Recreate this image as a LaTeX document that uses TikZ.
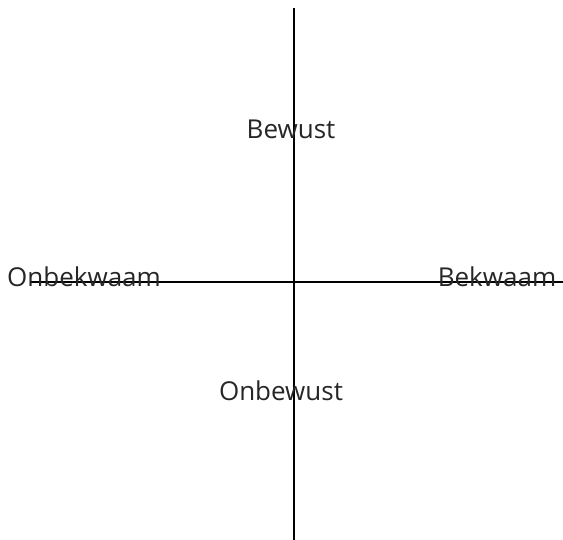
\documentclass[tikz,border=0pt]{standalone}
\usepackage{fontspec}
\setmainfont{Open Sans}
\begin{document}
\begin{tikzpicture}[x=1pt,y=-1pt,
  lbl/.style={text=black!85,font=\fontsize{26}{30}\selectfont,inner sep=0pt,anchor=center},
  axis/.style={draw=black,line width=1.2pt}]
\useasboundingbox (0,0) rectangle (563,540);
\coordinate (vt) at (294,8);
\coordinate (vb) at (294,540);
\coordinate (hl) at (30,282);
\coordinate (hr) at (563,282);
\draw[axis] (vt) -- (vb);
\draw[axis] (hl) -- (hr);
\node[lbl] (bewust) at (291,129) {Bewust};
\node[lbl] (onbewust) at (281,391) {Onbewust};
\node[lbl] (onbekwaam) at (84,277) {Onbekwaam};
\node[lbl] (bekwaam) at (497,277) {Bekwaam};
\end{tikzpicture}
\end{document}
